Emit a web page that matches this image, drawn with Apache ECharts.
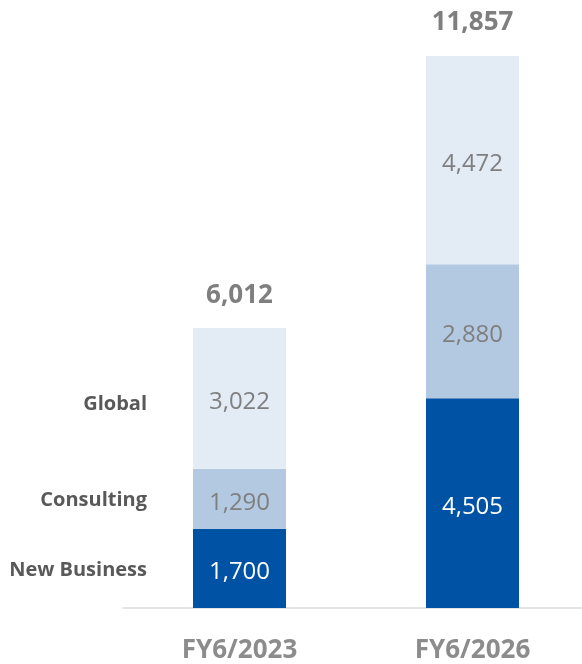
<!DOCTYPE html>
<html>
<head>
<meta charset="utf-8">
<style>
  html, body { margin: 0; padding: 0; background: #ffffff; overflow: hidden; }
  #chart { width: 589px; height: 664px; }
</style>
<script src="https://cdn.jsdelivr.net/npm/echarts@6/dist/echarts.min.js"></script>
</head>
<body>
<div id="chart"></div>
<script>
// Fiscal years shown on the category axis
const categories = ['FY6/2023', 'FY6/2026'];

// Segment values, stacked bottom to top
const newBusiness = [1700, 4505];
const consulting = [1290, 2880];
const globalSeg = [3022, 4472];

// Segment names printed beside the first bar
const segmentNames = ['New Business', 'Consulting', 'Global'];

const segments = [newBusiness, consulting, globalSeg];
const totals = categories.map((_, i) => segments.reduce((s, arr) => s + arr[i], 0));

const FONT = '"Open Sans", "DejaVu Sans", sans-serif';
const fmt = v => v.toLocaleString('en-US');

const colors = ['#0052a5', '#b3c9e2', '#e3ebf5'];
const valueColors = ['#ffffff', '#7f7f7f', '#7f7f7f'];
const nameOffsets = [[0, 2], [0, 1], [0, 6]];

const BAR_W = 93;

const series = [];

// Stacked value bars
segments.forEach((arr, k) => {
  series.push({
    name: segmentNames[k],
    type: 'bar',
    stack: 'main',
    barWidth: BAR_W,
    barGap: '-100%',
    data: arr,
    itemStyle: { color: colors[k] },
    label: {
      show: true,
      position: 'inside',
      offset: [0, 4],
      formatter: p => fmt(p.value),
      color: valueColors[k],
      fontFamily: FONT,
      fontSize: 24,
      fontWeight: 'normal'
    },
    silent: true
  });
});

// Totals above each stack (zero-height cap)
series.push({
  name: 'Total',
  type: 'bar',
  stack: 'main',
  barWidth: BAR_W,
  barGap: '-100%',
  data: categories.map(() => 0),
  itemStyle: { color: 'transparent' },
  label: {
    show: true,
    position: 'top',
    distance: 20,
    formatter: p => fmt(totals[p.dataIndex]),
    color: '#7f7f7f',
    fontFamily: FONT,
    fontSize: 26,
    fontWeight: 'bold'
  },
  silent: true
});

// Segment names, drawn from a transparent copy of the first stack
segments.forEach((arr, k) => {
  series.push({
    name: segmentNames[k] + ' name',
    type: 'bar',
    stack: 'names',
    barWidth: BAR_W,
    barGap: '-100%',
    data: arr.map((v, i) => (i === 0 ? v : null)),
    itemStyle: { color: 'transparent' },
    label: {
      show: true,
      position: 'left',
      distance: 46,
      offset: nameOffsets[k],
      formatter: () => segmentNames[k],
      color: '#595959',
      fontFamily: FONT,
      fontSize: 20,
      fontWeight: 'bold'
    },
    silent: true
  });
});

const chart = echarts.init(document.getElementById('chart'), null, { renderer: 'canvas' });
chart.setOption({
  animation: false,
  backgroundColor: '#ffffff',
  grid: { left: 123, right: 0, top: 56, bottom: 54, containLabel: false },
  xAxis: {
    type: 'category',
    data: categories,
    axisTick: { show: false },
    axisLine: { show: true, lineStyle: { color: '#dcdcdc', width: 1.5 } },
    axisLabel: {
      margin: 30,
      color: '#8c8c8c',
      fontFamily: FONT,
      fontSize: 26,
      fontWeight: 'bold'
    }
  },
  yAxis: {
    type: 'value',
    min: 0,
    max: v => v.max,
    show: false,
    splitLine: { show: false }
  },
  series
});
</script>
</body>
</html>
